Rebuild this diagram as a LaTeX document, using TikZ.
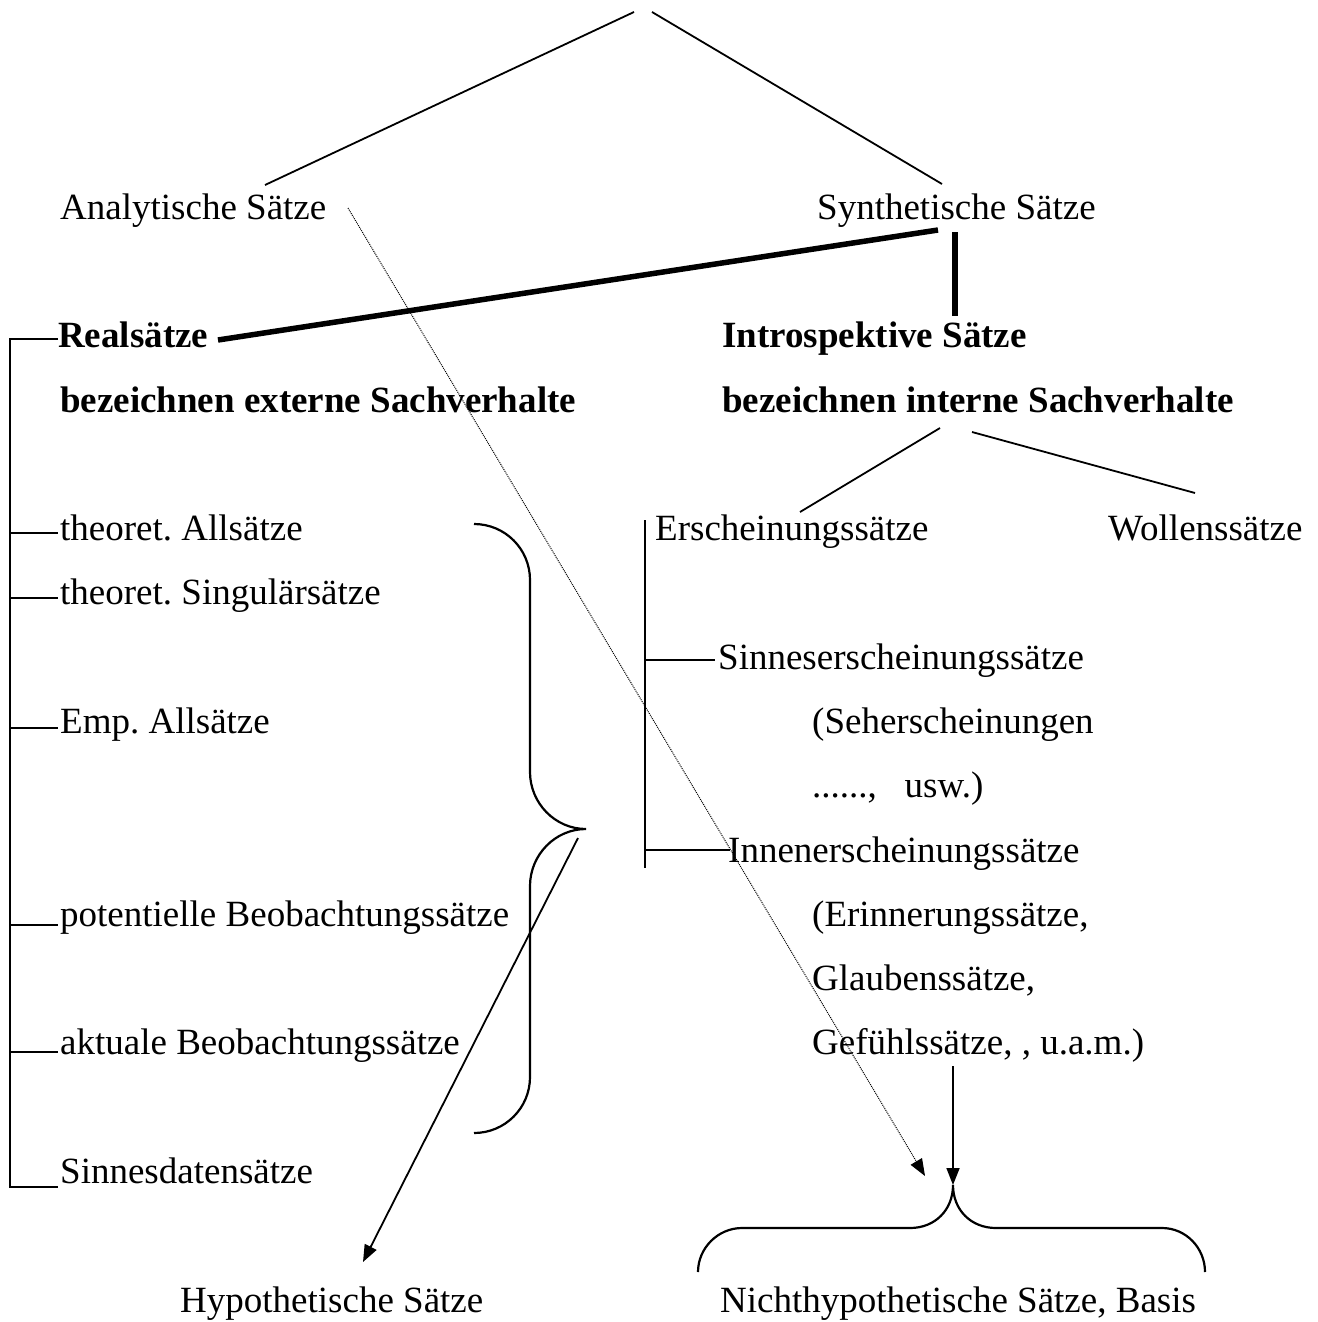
\documentclass[tikz,border=0pt]{standalone}
\usepackage{fontspec}
\setmainfont{Liberation Serif}
\usetikzlibrary{arrows.meta}
\frenchspacing

\tikzset{
  txt/.style={anchor=base west, inner sep=0pt, font=\fontsize{37}{44}\selectfont},
  boldtxt/.style={txt, font=\fontsize{37}{44}\selectfont\bfseries},
  link/.style={line width=1.8pt},
  heavy/.style={line width=5.5pt},
  bracelink/.style={line width=2.2pt},
  tip/.style={-{Triangle[length=17pt,width=13pt]}},
}

\begin{document}
\begin{tikzpicture}[x=1pt,y=-1pt]
\useasboundingbox (0,0) rectangle (1317,1322);

% top level
\node (analytic) [txt] at (60,219) {Analytische Sätze};
\node (synthetic) [txt] at (817,219) {Synthetische Sätze};

% second level
\node (real) [boldtxt] at (58,347.6) {Realsätze};
\node (realdesc) [boldtxt] at (60,412) {bezeichnen externe Sachverhalte};
\node (intro) [boldtxt] at (722,347.6) {Introspektive Sätze};
\node (introdesc) [boldtxt] at (722,412) {bezeichnen interne Sachverhalte};

% real sentences
\node (theoall) [txt] at (60,540.5) {theoret. Allsätze};
\node (theosing) [txt] at (60,604.8) {theoret. Singulärsätze};
\node (empall) [txt] at (60,733.4) {Emp. Allsätze};
\node (potobs) [txt] at (60,926.3) {potentielle Beobachtungssätze};
\node (actobs) [txt] at (60,1054.9) {aktuale Beobachtungssätze};
\node (sensedata) [txt] at (60,1183.5) {Sinnesdatensätze};

% introspective sentences
\node (appear) [txt] at (655,540.5) {Erscheinungssätze};
\node (will) [txt] at (1108,540.5) {Wollenssätze};
\node (senseapp) [txt] at (718,669.1) {Sinneserscheinungssätze};
\node (seeapp) [txt] at (812,733.4) {(Seherscheinungen};
\node (etc) [txt] at (812,797.7) {......,\ \ \ usw.)};
\node (innerapp) [txt] at (728,862) {Innenerscheinungssätze};
\node (memory) [txt] at (812,926.3) {(Erinnerungssätze,};
\node (belief) [txt] at (812,990.6) {Glaubenssätze,};
\node (feeling) [txt] at (812,1054.9) {Gefühlssätze, , u.a.m.)};

% bottom
\node (hypo) [txt] at (180,1312) {Hypothetische Sätze};
\node (basis) [txt] at (720,1312) {Nichthypothetische Sätze, Basis};

% connector ends
\coordinate (rootL) at (634,12);
\coordinate (rootR) at (652,12);
\coordinate (anTop) at (265,185);
\coordinate (syTop) at (942,184);
\coordinate (syLeft) at (938,230);
\coordinate (syDown) at (955,232);
\coordinate (reEnd) at (218,340);
\coordinate (inTop) at (955,316);
\coordinate (idL) at (940,428);
\coordinate (idR) at (972,432);
\coordinate (apTop) at (800,512);
\coordinate (wiTop) at (1195,493);
\coordinate (braceTip) at (586,829);
\coordinate (basisTip) at (953,1185);

\draw[link] (rootL) -- (anTop);
\draw[link] (rootR) -- (syTop);
\draw[heavy] (syLeft) -- (reEnd);
\draw[heavy] (syDown) -- (inTop);
\draw[link] (idL) -- (apTop);
\draw[link] (idR) -- (wiTop);

% left bracket
\draw[link] (58,339) -- (10,339) -- (10,1187) -- (58,1187);
\foreach \y in {533,598,728,925,1052}
  \draw[link] (10,\y) -- (58,\y);

% right bracket
\draw[link] (645,520) -- (645,868);
\draw[link] (645,660) -- (715,660);
\draw[link] (645,850) -- (730,850);

% brace over the hypothetical sentences
\draw[bracelink] (474,524) .. controls (505,524) and (530,549) .. (530,580)
  -- (530,772) .. controls (530,803) and (555,829) .. (braceTip)
  .. controls (555,829) and (530,855) .. (530,886)
  -- (530,1077) .. controls (530,1108) and (505,1133) .. (474,1133);
\draw[link,tip] (578,838) -- (363,1262);

% brace over the basis
\draw[bracelink] (698,1272) .. controls (698,1248) and (718,1228) .. (742,1228)
  -- (910,1228) .. controls (935,1228) and (953,1210) .. (basisTip)
  .. controls (953,1210) and (971,1228) .. (996,1228)
  -- (1162,1228) .. controls (1186,1228) and (1205,1248) .. (1205,1272);
\draw[link,tip] (953,1066) -- (basisTip);
\draw[line width=1pt,densely dotted,tip] (348,208) -- (925,1176);
\end{tikzpicture}
\end{document}
